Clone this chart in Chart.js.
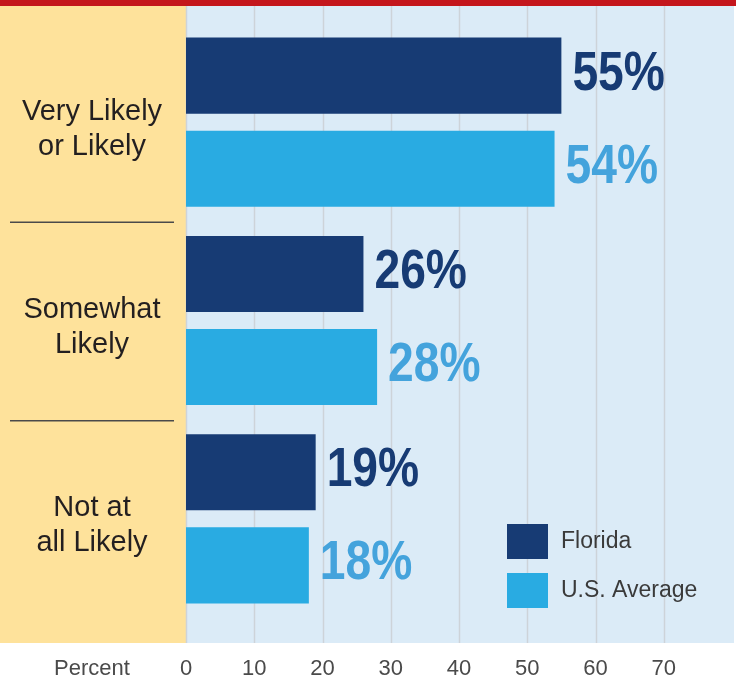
<!DOCTYPE html>
<html>
<head>
<meta charset="utf-8">
<script src="https://cdn.jsdelivr.net/npm/chart.js@4"></script>
<style>
  html, body { margin: 0; padding: 0; background: #ffffff; }
  #wrap { width: 736px; height: 681px; position: relative; }
</style>
</head>
<body>
<div id="wrap"><canvas id="likelyChart"></canvas></div>
<script>
const categories = [
  ["Very Likely", "or Likely"],
  ["Somewhat", "Likely"],
  ["Not at", "all Likely"]
];
const floridaValues = [55, 26, 19];
const usValues = [54, 28, 18];
const seriesNames = ["Florida", "U.S. Average"];
const tickValues = [0, 10, 20, 30, 40, 50, 60, 70];

const DARK = "#173b74";
const LIGHT = "#29abe2";
const LIGHT_TEXT = "#44a3dc";

const panelPlugin = {
  id: "panels",
  beforeDraw(chart) {
    const { ctx, chartArea } = chart;
    const x = chart.scales.x;
    const top = 6;
    const bottom = 643;

    ctx.save();
    // red strip on top
    ctx.fillStyle = "#c4161c";
    ctx.fillRect(0, 0, chart.width, top);

    // yellow label panel
    ctx.fillStyle = "#fee29b";
    ctx.fillRect(0, top, chartArea.left, bottom - top);

    // blue plot panel
    ctx.fillStyle = "#dbebf7";
    ctx.fillRect(chartArea.left, top, 734 - chartArea.left, bottom - top);

    // vertical grid lines
    ctx.strokeStyle = "#cdd3d9";
    ctx.lineWidth = 1.5;
    x.ticks.forEach((t) => {
      const px = Math.round(x.getPixelForValue(t.value)) + 0.5;
      ctx.beginPath();
      ctx.moveTo(px, top);
      ctx.lineTo(px, bottom);
      ctx.stroke();
    });

    // category text + separators
    const y = chart.scales.y;
    ctx.fillStyle = "#231f20";
    ctx.font = "29px 'Liberation Sans', Arial, sans-serif";
    ctx.textAlign = "center";
    ctx.textBaseline = "middle";
    categories.forEach((lines, i) => {
      const cy = y.getPixelForValue(i) + 7;
      lines.forEach((line, j) => {
        ctx.fillText(line, 92, cy + (j - (lines.length - 1) / 2) * 35);
      });
      if (i < categories.length - 1) {
        const sy = (y.getPixelForValue(i) + y.getPixelForValue(i + 1)) / 2 + 1;
        ctx.strokeStyle = "#4a4a4a";
        ctx.lineWidth = 1.5;
        ctx.beginPath();
        ctx.moveTo(10, sy);
        ctx.lineTo(174, sy);
        ctx.stroke();
      }
    });

    // axis caption
    ctx.fillStyle = "#4a4a4a";
    ctx.font = "22px 'Liberation Sans', Arial, sans-serif";
    ctx.fillText("Percent", 92, 669);
    ctx.restore();
  },
  afterDatasetsDraw(chart) {
    const { ctx } = chart;
    ctx.save();
    ctx.textAlign = "left";
    ctx.textBaseline = "alphabetic";
    ctx.font = "bold 55px 'Liberation Sans', Arial, sans-serif";
    const squeeze = 0.84;
    chart.data.datasets.forEach((ds, di) => {
      ctx.fillStyle = di === 0 ? DARK : LIGHT_TEXT;
      chart.getDatasetMeta(di).data.forEach((bar, i) => {
        ctx.save();
        ctx.translate(bar.x + 11, bar.y + 14);
        ctx.scale(squeeze, 1);
        ctx.fillText(ds.data[i] + "%", 0, 0);
        ctx.restore();
      });
    });

    // legend
    ctx.textBaseline = "middle";
    ctx.font = "23px 'Liberation Sans', Arial, sans-serif";
    chart.data.datasets.forEach((ds, di) => {
      const ly = 524 + di * 49;
      ctx.fillStyle = ds.backgroundColor;
      ctx.fillRect(507, ly, 41, 35);
      ctx.fillStyle = "#3a3a3a";
      ctx.fillText(ds.label, 561, ly + 18);
    });
    ctx.restore();
  }
};

const ctx = document.getElementById("likelyChart").getContext("2d");
const likelyChart = new Chart(ctx, {
  type: "bar",
  plugins: [panelPlugin],
  data: {
    labels: categories.map((c) => c.join(" ")),
    datasets: [
      {
        label: seriesNames[0],
        data: floridaValues,
        backgroundColor: DARK,
        borderWidth: 0,
        barPercentage: 0.817,
        categoryPercentage: 0.939
      },
      {
        label: seriesNames[1],
        data: usValues,
        backgroundColor: LIGHT,
        borderWidth: 0,
        barPercentage: 0.817,
        categoryPercentage: 0.939
      }
    ]
  },
  options: {
    indexAxis: "y",
    responsive: true,
    maintainAspectRatio: false,
    animation: false,
    layout: {
      padding: { left: 186, right: 4, top: 23, bottom: 0 }
    },
    plugins: {
      legend: { display: false },
      tooltip: { enabled: false }
    },
    scales: {
      x: {
        min: 0,
        max: 80,
        afterBuildTicks(scale) {
          scale.ticks = tickValues.map((v) => ({ value: v }));
        },
        afterFit(scale) {
          scale.height = 63;
        },
        border: { display: false },
        grid: { display: false, drawTicks: false },
        ticks: {
          padding: 38,
          color: "#4a4a4a",
          font: { family: "'Liberation Sans', Arial, sans-serif", size: 22 }
        }
      },
      y: {
        display: false
      }
    }
  }
});
</script>
</body>
</html>
